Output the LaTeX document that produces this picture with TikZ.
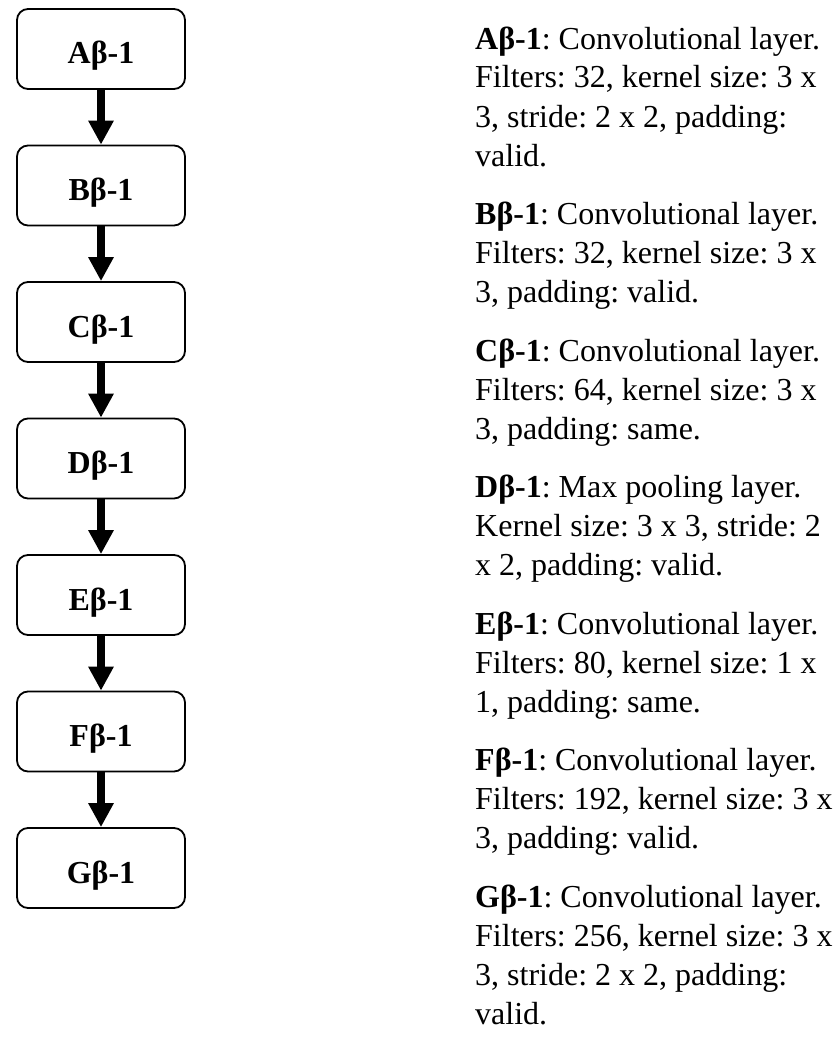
\documentclass[tikz,border=0pt]{standalone}
\usepackage{fontspec}
\setmainfont{Liberation Serif}
\frenchspacing
\usetikzlibrary{arrows.meta,positioning}

\begin{document}
\begin{tikzpicture}
[x=1pt,y=-1pt,node distance=136.5pt,
 layer/.style={draw=black,line width=1.8pt,rounded corners=11pt,minimum width=168pt,minimum height=80pt,text height=30pt,text depth=0pt,font=\fontsize{32}{39}\selectfont\bfseries},
 flow/.style={line width=8pt,-{Triangle[width=24pt,length=24pt]}},
 note/.style={anchor=base west,inner sep=0pt,align=left,font=\fontsize{32}{39}\selectfont}]
\useasboundingbox (0,0) rectangle (836,1046);
            \node[layer] (a) at (101,49) {Aβ-1};
            \node[layer] (b) [below of=a] {Bβ-1};
            \node[layer] (c) [below of=b] {Cβ-1};
            \node[layer] (d) [below of=c] {Dβ-1};
            \node[layer] (e) [below of=d] {Eβ-1};
            \node[layer] (f) [below of=e] {Fβ-1};
            \node[layer] (g) [below of=f] {Gβ-1};
            \path (a) edge[flow] (b) (b) edge[flow] (c) (c) edge[flow] (d)
                  (d) edge[flow] (e) (e) edge[flow] (f) (f) edge[flow] (g);
            % descriptions of the layers (placed at the last baseline)
            \node[note] (ta) at (475,166) {\textbf{Aβ-1}: Convolutional layer.\\Filters: 32, kernel size: 3 x\\3, stride: 2 x 2, padding:\\valid.};
            \node[note] (tb) at (475,302.5) {\textbf{Bβ-1}: Convolutional layer.\\Filters: 32, kernel size: 3 x\\3, padding: valid.};
            \node[note] (tc) at (475,439) {\textbf{Cβ-1}: Convolutional layer.\\Filters: 64, kernel size: 3 x\\3, padding: same.};
            \node[note] (td) at (475,575.5) {\textbf{Dβ-1}: Max pooling layer.\\Kernel size: 3 x 3, stride: 2\\x 2, padding: valid.};
            \node[note] (te) at (475,712) {\textbf{Eβ-1}: Convolutional layer.\\Filters: 80, kernel size: 1 x\\1, padding: same.};
            \node[note] (tf) at (475,848.5) {\textbf{Fβ-1}: Convolutional layer.\\Filters: 192, kernel size: 3 x\\3, padding: valid.};
            \node[note] (tg) at (475,1024) {\textbf{Gβ-1}: Convolutional layer.\\Filters: 256, kernel size: 3 x\\3, stride: 2 x 2, padding:\\valid.};
\end{tikzpicture}
\end{document}
